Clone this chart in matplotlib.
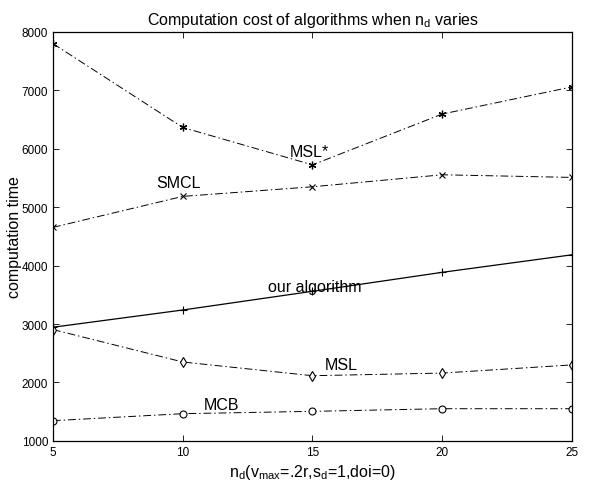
import matplotlib
matplotlib.use('Agg')
import matplotlib.pyplot as plt

plt.rcParams['font.family'] = ['Liberation Sans', 'DejaVu Sans']

nd = [5, 10, 15, 20, 25]
msl_star = [7800, 6365, 5725, 6595, 7060]
smcl = [4655, 5185, 5350, 5555, 5510]
our_alg = [2945, 3240, 3560, 3885, 4185]
msl = [2905, 2350, 2115, 2160, 2300]
mcb = [1345, 1465, 1505, 1550, 1550]

fig = plt.figure(figsize=(5.89, 4.85), dpi=100)
ax = fig.add_axes([0.09, 0.089, 0.881, 0.843])

dashdot = (0, (8, 3, 1.5, 3))
ax.plot(nd, msl_star, color='black', lw=0.7, ls=dashdot, marker=(6, 2, 0), ms=5.5, mew=0.9)
ax.plot(nd, smcl, color='black', lw=0.7, ls=dashdot, marker='x', ms=4, mew=0.8)
ax.plot(nd, our_alg, color='black', lw=0.9, ls='-', marker='+', ms=6, mew=0.8)
ax.plot(nd, msl, color='black', lw=0.7, ls=dashdot, marker='d', ms=5, mfc='white', mew=0.8)
ax.plot(nd, mcb, color='black', lw=0.7, ls=dashdot, marker='o', ms=5, mfc='white', mew=0.8)

ax.text(14.9, 5960, 'MSL*', fontsize=11.5, ha='center', va='center')
ax.text(9.85, 5420, 'SMCL', fontsize=11.5, ha='center', va='center')
ax.text(15.1, 3650, 'our algorithm', fontsize=11.5, ha='center', va='center')
ax.text(16.1, 2310, 'MSL', fontsize=11.5, ha='center', va='center')
ax.text(11.5, 1630, 'MCB', fontsize=11.5, ha='center', va='center')

ax.set_xlim(5, 25)
ax.set_ylim(1000, 8000)
ax.set_xticks(nd)
ax.set_yticks(range(1000, 8001, 1000))
ax.tick_params(direction='in', top=True, right=True, labelsize=8.5, length=4, width=0.6)
for s in ax.spines.values():
    s.set_linewidth(0.9)

ax.set_title('Computation cost of algorithms when n$_\\mathregular{d}$ varies', fontsize=11.5, pad=6)
ax.set_xlabel('n$_\\mathregular{d}$(v$_\\mathregular{max}$=.2r,s$_\\mathregular{d}$=1,doi=0)', fontsize=11.5, labelpad=3)
ax.set_ylabel('computation time', fontsize=11.5, labelpad=0)

fig.savefig('out.png', dpi=100)
